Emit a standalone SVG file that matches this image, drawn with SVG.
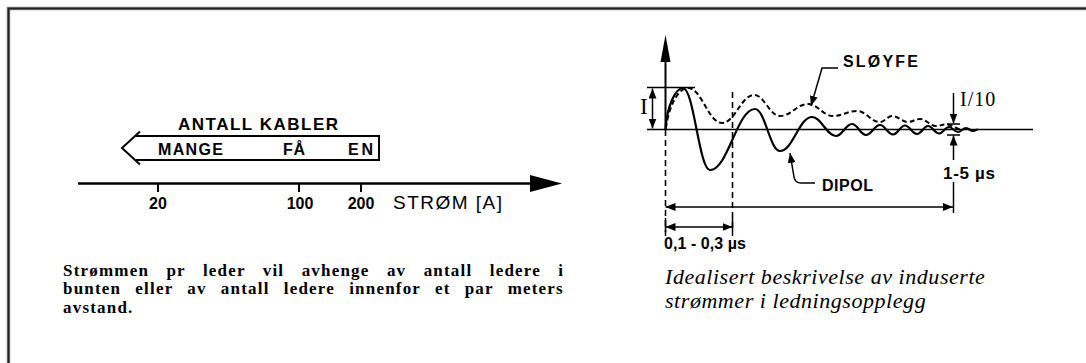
<svg xmlns="http://www.w3.org/2000/svg" width="1086" height="363" viewBox="0 0 1086 363">
<style>
.ln{stroke:#000;stroke-width:2;fill:none}
.thin{stroke:#000;stroke-width:1.5;fill:none}
.dash{stroke:#000;stroke-width:1.6;fill:none;stroke-dasharray:6,4}
.sans{font-family:"Liberation Sans",Arial,sans-serif;font-weight:bold;fill:#000}
.med{font-family:"Liberation Sans",Arial,sans-serif;font-weight:normal;fill:#000}
.ser{font-family:"Liberation Serif","Times New Roman",serif;fill:#000}
.para{font-family:"Liberation Serif","Times New Roman",serif;font-weight:bold;font-size:17px;letter-spacing:1.2px;fill:#000}
.cap{font-family:"Liberation Serif","Times New Roman",serif;font-style:italic;font-size:22px;letter-spacing:0.55px;fill:#000}
</style>
<defs>
<marker id="ah" markerUnits="userSpaceOnUse" markerWidth="10" markerHeight="8" viewBox="0 0 10 8" refX="10" refY="4" orient="auto-start-reverse">
<path d="M0,0 L10,4 L0,8 z" fill="#000"/>
</marker>
</defs>
<rect width="1086" height="363" fill="#fff"/>
<g id="frame">
<path d="M8.5,363 V8.5 H1086" stroke="#999" stroke-width="3.5" fill="none"/>
<path d="M8.5,363 V8.5 H1086" stroke="#222" stroke-width="2" fill="none"/>
</g>

<g id="kabler-arrow">
<path class="ln" d="M140,131.5 L122,148 L140,164.5 M136,136 H379 V160 H136"/>
<text class="sans" x="178" y="130" font-size="17" textLength="160" lengthAdjust="spacing">ANTALL KABLER</text>
<text class="sans" x="158" y="155" font-size="16" textLength="65" lengthAdjust="spacing">MANGE</text>
<text class="sans" x="283" y="155" font-size="16" textLength="22" lengthAdjust="spacing">FÅ</text>
<text class="sans" x="348" y="155" font-size="16" textLength="25" lengthAdjust="spacing">EN</text>
</g>

<g id="strom-axis">
<path d="M78,183.5 H535" stroke="#000" stroke-width="2.5" fill="none"/>
<path d="M530,175 L562,183.5 L530,192 z" fill="#000"/>
<path class="ln" d="M158,183 V192 M299,183 V192 M361,183 V192"/>
<text class="sans" x="158" y="208.5" font-size="16" text-anchor="middle">20</text>
<text class="sans" x="300" y="208.5" font-size="16" text-anchor="middle">100</text>
<text class="sans" x="361" y="208.5" font-size="16" text-anchor="middle">200</text>
<text class="med" x="393" y="208.5" font-size="19" textLength="109" lengthAdjust="spacing">STRØM [A]</text>
</g>

<g id="left-text">
<text class="para" x="63" y="275.5" word-spacing="11.9">Strømmen pr leder vil avhenge av antall ledere i</text>
<text class="para" x="63" y="294" word-spacing="8.7">bunten eller av antall ledere innenfor et par meters</text>
<text class="para" x="63" y="312.5">avstand.</text>
</g>

<g id="graph-axes">
<path class="ln" d="M665.5,60 V129.5"/>
<path d="M660.5,62 L665.5,35 L670.5,62 z" fill="#000"/>
<path class="thin" d="M647,129.5 H1033"/>
<path class="thin" d="M647,87.5 H695"/>
<path class="dash" d="M665.5,130 V232"/>
<path class="dash" d="M732.5,92 V232"/>
</g>

<g id="sloyfe-curve">
<path d="M666,128 C668,110 677,88 688,88 C701.6,88 708.4,123 722,123 C734.8,123 741.2,95 754,95 C764.4,95 769.6,116 780,116 C791.2,116 796.8,104 808,104 C818,104 823,116 833,116 C842.6,116 847.4,111 857,111 C866.2,111 870.8,122 880,122 C884.8,122 887.2,116 892,116 C898.4,116 901.6,122 908,122 C912.8,122 915.2,119 920,119 C926.4,119 929.6,126 936,126 C940,126 942,124.5 946,124.5 C952,124.5 956,129.5 962,129.5" stroke="#000" stroke-width="2" fill="none" stroke-dasharray="5,3"/>
</g>

<g id="dipol-curve">
<path d="M665.5,129.5 C667,105 676,88 683,88 C693.8,88 699.2,170 710,170 C728,170 737,109 755,109 C765,109 770,151 780,151 C792.8,151 799.2,117 812,117 C821.6,117 826.4,136 836,136 C842.4,136 845.6,124 852,124 C857.6,124 860.4,135 866,135 C871.6,135 874.4,125 880,125 C885.2,125 887.8,134.5 893,134.5 C897.8,134.5 900.2,125.5 905,125.5 C909.8,125.5 912.2,134 917,134 C921.4,134 923.6,126 928,126 C932.4,126 934.6,133.5 939,133.5 C943,133.5 945,127 949,127 C952.6,127 954.4,132 958,132 C961.2,132 962.8,128 966,128 C968.8,128 970.2,131 973,131 C975,131 976,129.5 978,129.5" stroke="#000" stroke-width="2.2" fill="none"/>
</g>

<g id="connectors">
<path class="thin" d="M652.5,88.5 V128.5" marker-start="url(#ah)" marker-end="url(#ah)"/>
<path class="thin" d="M838,68 H822 L811,106" marker-end="url(#ah)"/>
<path class="thin" d="M815,183 H801 Q795,183 794,177 L790,153" marker-end="url(#ah)"/>
<path class="thin" d="M953.5,93 V123.5" marker-end="url(#ah)"/>
<path class="thin" d="M953.5,160 V135.5" marker-end="url(#ah)"/>
<path class="thin" d="M947,124 H960 M947,135 H960"/>
<path class="thin" d="M953.5,182 V213"/>
<path class="thin" d="M665.5,207 H953" marker-start="url(#ah)" marker-end="url(#ah)"/>
<path class="thin" d="M665.5,227 H732.5" marker-start="url(#ah)" marker-end="url(#ah)"/>
<path class="thin" d="M665.5,218 V236 M732.5,218 V236"/>
</g>

<g id="graph-labels">
<text class="ser" x="640" y="114" font-size="23">I</text>
<text class="sans" x="843" y="67" font-size="16" textLength="75" lengthAdjust="spacing">SLØYFE</text>
<text class="sans" x="822" y="191" font-size="16" textLength="51" lengthAdjust="spacing">DIPOL</text>
<text class="ser" x="960" y="106" font-size="20" letter-spacing="1">I/10</text>
<text class="sans" x="943" y="179" font-size="17" textLength="52" lengthAdjust="spacing">1-5 µs</text>
<text class="sans" x="664" y="249" font-size="16" textLength="82" lengthAdjust="spacing">0,1 - 0,3 µs</text>
</g>

<g id="right-caption">
<text class="cap" x="665" y="284">Idealisert beskrivelse av induserte</text>
<text class="cap" x="665" y="308">strømmer i ledningsopplegg</text>
</g>
</svg>
